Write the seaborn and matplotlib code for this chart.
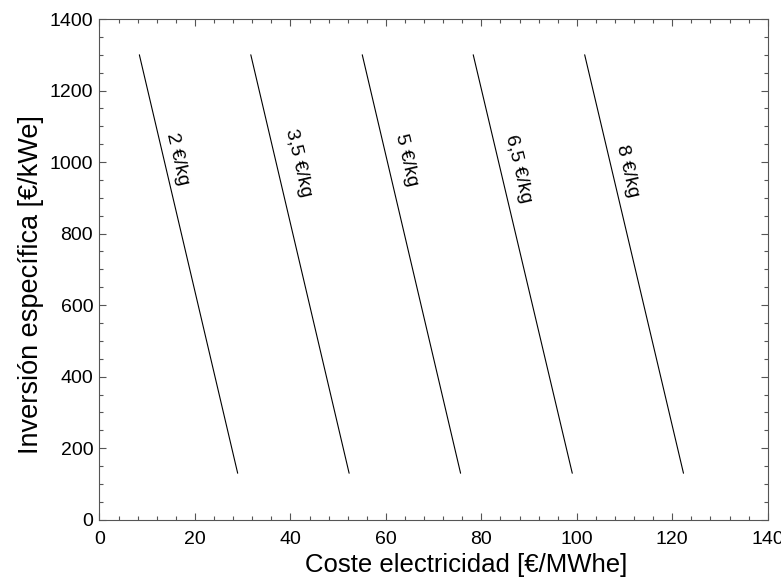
import pandas as pd
import seaborn as sns
import matplotlib.pyplot as plt
from matplotlib.ticker import MultipleLocator

# precio del hidrogeno (etiquetas) y extremos de cada recta
precios = ['2 €/kg', '3,5 €/kg', '5 €/kg', '6,5 €/kg', '8 €/kg']
x_arriba = [8.35, 31.7, 55.05, 78.3, 101.65]
x_abajo = [28.95, 52.3, 75.65, 99.05, 122.35]
y_arriba = 1300
y_abajo = 130

# posicion de las etiquetas
lab_x = [16.4, 41.7, 64.2, 87.8, 110.6]
lab_y = [1008, 999, 1005, 980, 975]

rows = []
for p, xa, xb in zip(precios, x_arriba, x_abajo):
    rows.append({'precio': p, 'coste': xa, 'inversion': y_arriba})
    rows.append({'precio': p, 'coste': xb, 'inversion': y_abajo})
df = pd.DataFrame(rows)

sns.set_theme(style="ticks")
plt.rcParams['font.family'] = ['Liberation Sans', 'DejaVu Sans']
plt.rcParams['text.color'] = 'black'
plt.rcParams['axes.labelcolor'] = 'black'
plt.rcParams['axes.edgecolor'] = '#555555'
plt.rcParams['xtick.color'] = '#555555'
plt.rcParams['ytick.color'] = '#555555'
plt.rcParams['xtick.labelcolor'] = 'black'
plt.rcParams['ytick.labelcolor'] = 'black'

fig = plt.figure(figsize=(7.81, 5.87), dpi=100)
ax = fig.add_axes([0.1274, 0.1146, 0.9830 - 0.1274, 0.9676 - 0.1146])

sns.lineplot(data=df, x='coste', y='inversion', units='precio', estimator=None,
             color='black', linewidth=0.8, ax=ax)

for p, lx, ly in zip(precios, lab_x, lab_y):
    ax.text(lx, ly, p, rotation=-76.8, rotation_mode='anchor',
            ha='center', va='center', fontsize=14)

ax.set_xlim(0, 140)
ax.set_ylim(0, 1400)
ax.xaxis.set_major_locator(MultipleLocator(20))
ax.xaxis.set_minor_locator(MultipleLocator(4))
ax.yaxis.set_major_locator(MultipleLocator(200))
ax.yaxis.set_minor_locator(MultipleLocator(50))
ax.tick_params(which='both', direction='in', top=True, right=True, width=0.8)
ax.tick_params(which='major', length=5, labelsize=14)
ax.tick_params(which='minor', length=3)
ax.tick_params(axis='x', which='major', pad=8)
ax.tick_params(axis='y', which='major', pad=4.5)
for s in ax.spines.values():
    s.set_linewidth(0.8)

# en el original los titulos no estan centrados en el eje
ax.set_xlabel('Coste electricidad [€/MWhe]', fontsize=18.5, labelpad=4, x=0.5485)
ax.set_ylabel('Inversión específica [€/kWe]', fontsize=19.5, labelpad=4, y=0.469)

fig.savefig('out.png', dpi=100)
